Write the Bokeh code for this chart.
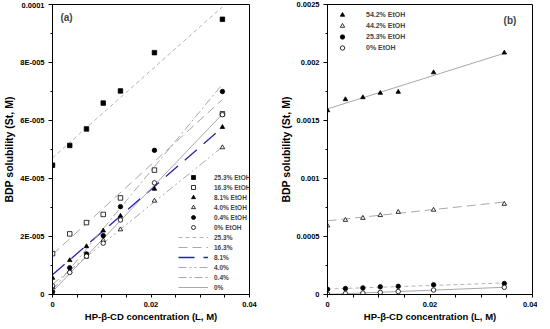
from bokeh.plotting import figure
from bokeh.models import Range1d, FixedTicker, Legend, LegendItem, Label
from bokeh.layouts import row
from bokeh.embed import file_html
from bokeh.resources import INLINE

# ---------------- data ----------------
x_cd = [0.0, 0.0035, 0.0069, 0.0103, 0.0138, 0.0207, 0.0345]  # HP-beta-CD (M)

# panel (a) solubilities (M)
s_253 = [4.46e-5, 5.14e-5, 5.71e-5, 6.60e-5, 7.02e-5, 8.34e-5, 9.49e-5]
s_163 = [1.41e-5, 2.09e-5, 2.48e-5, 2.76e-5, 3.33e-5, 4.29e-5, 6.23e-5]
s_81 = [0.57e-5, 1.18e-5, 1.66e-5, 2.20e-5, 2.71e-5, 3.64e-5, 5.77e-5]
s_40 = [0.25e-5, 0.80e-5, 1.30e-5, 1.87e-5, 2.24e-5, 3.23e-5, 5.07e-5]
s_04 = [0.09e-5, 0.92e-5, 1.40e-5, 2.03e-5, 3.03e-5, 4.97e-5, 7.00e-5]
s_0 = [0.30e-5, 0.76e-5, 1.32e-5, 1.77e-5, 2.57e-5, 3.85e-5, 6.20e-5]

# panel (b) solubilities (M)
s_542 = [1.587e-3, 1.682e-3, 1.699e-3, 1.737e-3, 1.746e-3, 1.914e-3, 2.084e-3]
s_442 = [0.593e-3, 0.642e-3, 0.659e-3, 0.683e-3, 0.711e-3, 0.729e-3, 0.780e-3]

# linear fits: intercept, slope
fit_253 = (4.71e-5, 1.510e-3)
fit_163 = (1.38e-5, 1.548e-3)
fit_81 = (0.68e-5, 1.472e-3)
fit_40 = (0.35e-5, 1.374e-3)
fit_04 = (0.15e-5, 2.058e-3)
fit_0 = (0.10e-5, 1.774e-3)
fit_542 = (1.600e-3, 1.391e-2)
fit_442 = (0.635e-3, 4.70e-3)

# ticks
x_major = [0.0, 0.02, 0.04]
x_minor = [0.005, 0.01, 0.015, 0.025, 0.03, 0.035]
x_labels = ["0", "0.02", "0.04"]
ya_major = [0.0, 2e-5, 4e-5, 6e-5, 8e-5, 1e-4]
ya_minor = [1e-5, 3e-5, 5e-5, 7e-5, 9e-5]
ya_labels = ["0", "2E-005", "4E-005", "6E-005", "8E-005", "0.0001"]
yb_major = [0.0, 0.0005, 0.001, 0.0015, 0.002, 0.0025]
yb_minor = [0.00025, 0.00075, 0.00125, 0.00175, 0.00225]
yb_labels = ["0", "0.0005", "0.001", "0.0015", "0.002", "0.0025"]

FONT = "Liberation Sans"
GRAY = "#a8a8a8"
LGRAY = "#b4b4b4"
BLUE = "#2626b0"


def fit_xy(fit):
    xs = [min(x_cd), max(x_cd)]
    return xs, [fit[0] + fit[1] * x for x in xs]


def style(p, ymaj, ymin, ylab):
    p.xaxis.ticker = FixedTicker(ticks=x_major, minor_ticks=x_minor)
    p.xaxis.major_label_overrides = {v: t for v, t in zip(x_major, x_labels)}
    p.yaxis.ticker = FixedTicker(ticks=ymaj, minor_ticks=ymin)
    p.yaxis.major_label_overrides = {v: t for v, t in zip(ymaj, ylab)}
    for ax in (p.xaxis, p.yaxis):
        ax.axis_line_color = "black"
        ax.major_tick_line_color = "black"
        ax.minor_tick_line_color = "black"
        ax.major_tick_in = 0
        ax.minor_tick_in = 0
        ax.major_label_text_font = FONT
        ax.major_label_text_font_style = "bold"
        ax.major_label_text_font_size = "7.5px"
        ax.major_label_text_color = "black"
        ax.axis_label_text_font = FONT
        ax.axis_label_text_font_style = "bold"
        ax.axis_label_text_color = "black"
    p.xaxis.major_tick_out = 3
    p.xaxis.minor_tick_out = 3
    p.yaxis.major_tick_out = 4
    p.yaxis.minor_tick_out = 2
    p.xaxis.major_label_standoff = 4
    p.yaxis.major_label_standoff = 4
    p.xaxis.axis_label_standoff = 1
    p.yaxis.axis_label_standoff = 2
    p.xaxis.axis_label = "HP-\u03b2-CD concentration (L, M)"
    p.yaxis.axis_label = "BDP solubility (St, M)"
    p.xaxis.axis_label_text_font_size = "9.5px"
    p.yaxis.axis_label_text_font_size = "10.5px"
    p.xgrid.visible = False
    p.ygrid.visible = False
    p.outline_line_color = "black"
    p.outline_line_alpha = 1.0
    p.outline_line_width = 1


H = 324

# ---------------- panel (a) ----------------
pa = figure(width=276, height=H, output_backend="svg", toolbar_location=None,
            x_range=Range1d(0, 0.04), y_range=Range1d(0, 1e-4),
            min_border_left=44, min_border_right=27, min_border_top=4, min_border_bottom=26)
style(pa, ya_major, ya_minor, ya_labels)

line_specs_a = [
    ("25.3%", fit_253, LGRAY, "4 3"),
    ("16.3%", fit_163, GRAY, "9 5"),
    ("8.1%", fit_81, BLUE, "16 9"),
    ("4.0%", fit_40, GRAY, "8 3 2 3 2 3"),
    ("0.4%", fit_04, GRAY, "8 3 2 3"),
    ("0%", fit_0, GRAY, "solid"),
]
line_items = []
for lab, fit, col, dash in line_specs_a:
    xs, ys = fit_xy(fit)
    r = pa.line(xs, ys, line_color=col, line_width=1.3 if col == BLUE else 1, line_dash=dash)
    line_items.append(LegendItem(label=lab, renderers=[r]))

marker_specs_a = [
    ("25.3% EtOH", s_253, "square", "black"),
    ("16.3% EtOH", s_163, "square", "white"),
    ("8.1% EtOH", s_81, "triangle", "black"),
    ("4.0% EtOH", s_40, "triangle", "white"),
    ("0.4% EtOH", s_04, "circle", "black"),
    ("0% EtOH", s_0, "circle", "white"),
]
marker_items = []
for lab, ys, mk, fc in marker_specs_a:
    r = pa.scatter(x_cd, ys, marker=mk, size=4.5, fill_color=fc, line_color="black", line_width=0.8)
    marker_items.append(LegendItem(label=lab, renderers=[r]))

leg_a = Legend(items=marker_items + line_items, location=(126, 2),
               glyph_width=30, glyph_height=10, label_height=10, label_width=38, spacing=0,
               label_standoff=6, padding=0, margin=0,
               label_text_font=FONT, label_text_font_style="bold", label_text_font_size="6.5px",
               border_line_alpha=0, background_fill_alpha=0)
pa.add_layout(leg_a)
pa.add_layout(Label(x=0.0016, y=9.55e-5, text="(a)", text_font=FONT, text_font_style="bold",
                    text_font_size="10px", text_baseline="middle"))

# ---------------- panel (b) ----------------
pb = figure(width=261, height=H, output_backend="svg", toolbar_location=None,
            x_range=Range1d(0, 0.04), y_range=Range1d(0, 0.0025),
            min_border_left=45, min_border_right=5, min_border_top=4, min_border_bottom=26)
style(pb, yb_major, yb_minor, yb_labels)

line_specs_b = [
    (fit_542, GRAY, "solid"),
    (fit_442, GRAY, "9 5"),
    (fit_253, LGRAY, "4 3"),
    (fit_0, GRAY, "solid"),
]
for fit, col, dash in line_specs_b:
    xs, ys = fit_xy(fit)
    pb.line(xs, ys, line_color=col, line_width=1, line_dash=dash)

marker_specs_b = [
    ("54.2% EtOH", s_542, "triangle", "black"),
    ("44.2% EtOH", s_442, "triangle", "white"),
    ("25.3% EtOH", s_253, "circle", "black"),
    ("0% EtOH", s_0, "circle", "white"),
]
items_b = []
for lab, ys, mk, fc in marker_specs_b:
    r = pb.scatter(x_cd, ys, marker=mk, size=4.5, fill_color=fc, line_color="black", line_width=0.8)
    items_b.append(LegendItem(label=lab, renderers=[r]))

leg_b = Legend(items=items_b, location="top_left",
               glyph_width=20, glyph_height=11, label_height=11, label_width=42, spacing=0,
               label_standoff=14, padding=0, margin=5,
               label_text_font=FONT, label_text_font_style="bold", label_text_font_size="7px",
               border_line_alpha=0, background_fill_alpha=0)
pb.add_layout(leg_b)
pb.add_layout(Label(x=0.0356, y=2.36e-3, text="(b)", text_font=FONT, text_font_style="bold",
                    text_font_size="10px", text_baseline="middle", text_align="center"))

layout = row(pa, pb)
open("out.html", "w").write(file_html(layout, INLINE))
